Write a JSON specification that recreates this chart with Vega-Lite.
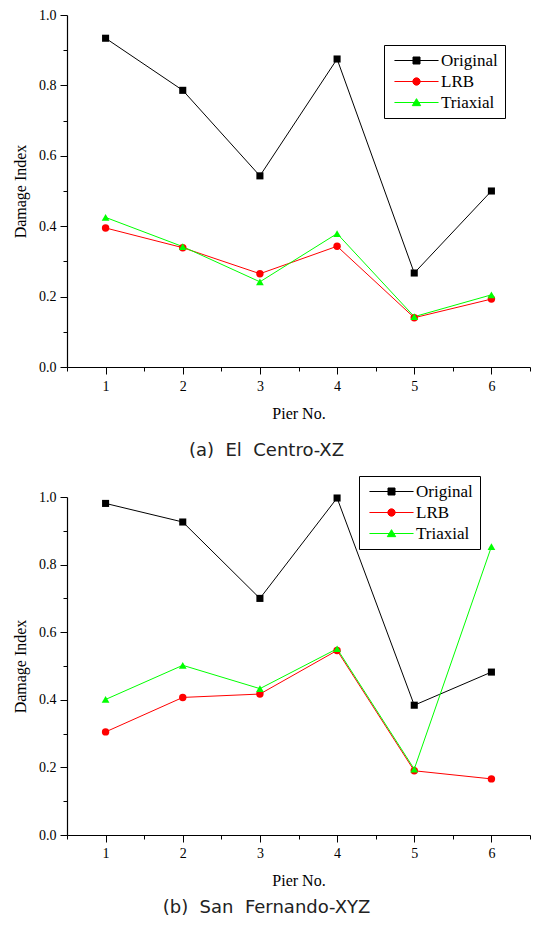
{
  "$schema": "https://vega.github.io/schema/vega-lite/v6.json",
  "background": "white",
  "padding": {"left": 12, "top": 8, "right": 0, "bottom": 0},
  "datasets": {
    "d": [
      {"panel": "a", "pier": 1, "series": "Original", "value": 0.934},
      {"panel": "a", "pier": 2, "series": "Original", "value": 0.786},
      {"panel": "a", "pier": 3, "series": "Original", "value": 0.543},
      {"panel": "a", "pier": 4, "series": "Original", "value": 0.875},
      {"panel": "a", "pier": 5, "series": "Original", "value": 0.267},
      {"panel": "a", "pier": 6, "series": "Original", "value": 0.500},
      {"panel": "a", "pier": 1, "series": "LRB", "value": 0.395},
      {"panel": "a", "pier": 2, "series": "LRB", "value": 0.339},
      {"panel": "a", "pier": 3, "series": "LRB", "value": 0.265},
      {"panel": "a", "pier": 4, "series": "LRB", "value": 0.343},
      {"panel": "a", "pier": 5, "series": "LRB", "value": 0.140},
      {"panel": "a", "pier": 6, "series": "LRB", "value": 0.193},
      {"panel": "a", "pier": 1, "series": "Triaxial", "value": 0.425},
      {"panel": "a", "pier": 2, "series": "Triaxial", "value": 0.342},
      {"panel": "a", "pier": 3, "series": "Triaxial", "value": 0.242},
      {"panel": "a", "pier": 4, "series": "Triaxial", "value": 0.379},
      {"panel": "a", "pier": 5, "series": "Triaxial", "value": 0.143},
      {"panel": "a", "pier": 6, "series": "Triaxial", "value": 0.205},
      {"panel": "b", "pier": 1, "series": "Original", "value": 0.981},
      {"panel": "b", "pier": 2, "series": "Original", "value": 0.926},
      {"panel": "b", "pier": 3, "series": "Original", "value": 0.700},
      {"panel": "b", "pier": 4, "series": "Original", "value": 0.997},
      {"panel": "b", "pier": 5, "series": "Original", "value": 0.384},
      {"panel": "b", "pier": 6, "series": "Original", "value": 0.482},
      {"panel": "b", "pier": 1, "series": "LRB", "value": 0.305},
      {"panel": "b", "pier": 2, "series": "LRB", "value": 0.407},
      {"panel": "b", "pier": 3, "series": "LRB", "value": 0.417},
      {"panel": "b", "pier": 4, "series": "LRB", "value": 0.546},
      {"panel": "b", "pier": 5, "series": "LRB", "value": 0.190},
      {"panel": "b", "pier": 6, "series": "LRB", "value": 0.166},
      {"panel": "b", "pier": 1, "series": "Triaxial", "value": 0.401},
      {"panel": "b", "pier": 2, "series": "Triaxial", "value": 0.502},
      {"panel": "b", "pier": 3, "series": "Triaxial", "value": 0.433},
      {"panel": "b", "pier": 4, "series": "Triaxial", "value": 0.551},
      {"panel": "b", "pier": 5, "series": "Triaxial", "value": 0.195},
      {"panel": "b", "pier": 6, "series": "Triaxial", "value": 0.853}
    ]
  },
  "config": {
    "view": {"stroke": null},
    "axis": {
      "grid": false,
      "domainColor": "#000000",
      "domainWidth": 1.2,
      "tickColor": "#000000",
      "tickWidth": 1,
      "labelFont": "Liberation Serif",
      "labelFontSize": 14,
      "labelColor": "#000000",
      "titleFont": "Liberation Serif",
      "titleFontSize": 16,
      "titleFontWeight": "normal",
      "titleColor": "#000000",
      "labelOverlap": false,
      "labelBound": false,
      "labelFlush": false
    },
    "legend": {
      "labelFont": "Liberation Serif",
      "labelFontSize": 17,
      "labelColor": "#000000",
      "title": null,
      "orient": "none",
      "strokeColor": "#000000",
      "fillColor": "#ffffff",
      "padding": 7,
      "symbolSize": 49,
      "symbolOffset": 17,
      "labelOffset": 16,
      "rowPadding": 3,
      "symbolStrokeWidth": 1,
      "symbolOpacity": 1
    },
    "title": {
      "font": "DejaVu Sans",
      "fontSize": 18,
      "fontWeight": "normal",
      "color": "#222222"
    }
  },
  "resolve": {
    "scale": {"color": "independent"},
    "legend": {"color": "independent"}
  },
  "spacing": 15,
  "vconcat": [
    {
      "width": 463,
      "height": 352,
      "data": {"name": "d"},
      "transform": [{"filter": "datum.panel === 'a'"}],
      "title": {"text": "(a)\u00a0\u00a0El\u00a0\u00a0Centro-XZ", "orient": "bottom", "anchor": "middle", "dx": -32, "offset": 21},
      "encoding": {
        "x": {
          "field": "pier", "type": "quantitative",
          "scale": {"domain": [0.5, 6.5], "nice": false, "zero": false},
          "axis": {
            "title": "Pier No.",
            "values": [0.5, 1, 1.5, 2, 2.5, 3, 3.5, 4, 4.5, 5, 5.5, 6, 6.5],
            "labelExpr": "datum.value % 1 === 0 ? format(datum.value, 'd') : ''",
            "tickSize": {"condition": {"test": "datum.value % 1 === 0", "value": 7}, "value": 4},
            "labelPadding": 5,
            "titlePadding": 12
          }
        },
        "y": {
          "field": "value", "type": "quantitative",
          "scale": {"domain": [0, 1], "nice": false},
          "axis": {
            "title": "Damage Index",
            "values": [0, 0.1, 0.2, 0.3, 0.4, 0.5, 0.6, 0.7, 0.8, 0.9, 1.0],
            "labelExpr": "round(datum.value * 10) % 2 === 0 ? format(datum.value, '.1f') : ''",
            "tickSize": {"condition": {"test": "round(datum.value * 10) % 2 === 0", "value": 7}, "value": 4},
            "labelPadding": 4,
            "titlePadding": 10
          }
        },
        "color": {
          "field": "series", "type": "nominal",
          "scale": {"domain": ["Original", "LRB", "Triaxial"], "range": ["#000000", "#ff0000", "#00ff00"]},
          "legend": {
            "legendX": 317,
            "legendY": 30,
            "symbolType": {"expr": "datum.value === 'Original' ? 'M-6.3,0H6.3M-1,-1H1V1H-1Z' : datum.value === 'LRB' ? 'M-6.3,0H6.3M1.05,0A1.05,1.05,0,1,1,-1.05,0A1.05,1.05,0,1,1,1.05,0Z' : 'M-6.3,0H6.3M0,-1.1L1.2,0.9L-1.2,0.9Z'"},
            "symbolFillColor": {"expr": "datum.value === 'Original' ? '#000000' : datum.value === 'LRB' ? '#ff0000' : '#00ff00'"},
            "symbolStrokeColor": {"expr": "datum.value === 'Original' ? '#000000' : datum.value === 'LRB' ? '#ff0000' : '#00ff00'"}
          }
        }
      },
      "layer": [
        {"mark": {"type": "line", "strokeWidth": 1}},
        {
          "transform": [{"filter": "datum.series === 'Original'"}],
          "mark": {"type": "point", "shape": "square", "filled": true, "size": 50, "opacity": 1}
        },
        {
          "transform": [{"filter": "datum.series === 'LRB'"}],
          "mark": {"type": "point", "shape": "circle", "filled": true, "size": 55, "opacity": 1}
        },
        {
          "transform": [{"filter": "datum.series === 'Triaxial'"}],
          "mark": {"type": "point", "shape": "triangle-up", "filled": true, "size": 60, "opacity": 1}
        }
      ]
    },
    {
      "width": 463,
      "height": 338,
      "data": {"name": "d"},
      "transform": [{"filter": "datum.panel === 'b'"}],
      "title": {"text": "(b)\u00a0\u00a0San\u00a0\u00a0Fernando-XYZ", "orient": "bottom", "anchor": "middle", "dx": -32, "offset": 11},
      "encoding": {
        "x": {
          "field": "pier", "type": "quantitative",
          "scale": {"domain": [0.5, 6.5], "nice": false, "zero": false},
          "axis": {
            "title": "Pier No.",
            "values": [0.5, 1, 1.5, 2, 2.5, 3, 3.5, 4, 4.5, 5, 5.5, 6, 6.5],
            "labelExpr": "datum.value % 1 === 0 ? format(datum.value, 'd') : ''",
            "tickSize": {"condition": {"test": "datum.value % 1 === 0", "value": 7}, "value": 4},
            "labelPadding": 4,
            "titlePadding": 12
          }
        },
        "y": {
          "field": "value", "type": "quantitative",
          "scale": {"domain": [0, 1], "nice": false},
          "axis": {
            "title": "Damage Index",
            "values": [0, 0.1, 0.2, 0.3, 0.4, 0.5, 0.6, 0.7, 0.8, 0.9, 1.0],
            "labelExpr": "round(datum.value * 10) % 2 === 0 ? format(datum.value, '.1f') : ''",
            "tickSize": {"condition": {"test": "round(datum.value * 10) % 2 === 0", "value": 7}, "value": 4},
            "labelPadding": 4,
            "titlePadding": 10
          }
        },
        "color": {
          "field": "series", "type": "nominal",
          "scale": {"domain": ["Original", "LRB", "Triaxial"], "range": ["#000000", "#ff0000", "#00ff00"]},
          "legend": {
            "legendX": 292,
            "legendY": -21,
            "symbolType": {"expr": "datum.value === 'Original' ? 'M-6.3,0H6.3M-1,-1H1V1H-1Z' : datum.value === 'LRB' ? 'M-6.3,0H6.3M1.05,0A1.05,1.05,0,1,1,-1.05,0A1.05,1.05,0,1,1,1.05,0Z' : 'M-6.3,0H6.3M0,-1.1L1.2,0.9L-1.2,0.9Z'"},
            "symbolFillColor": {"expr": "datum.value === 'Original' ? '#000000' : datum.value === 'LRB' ? '#ff0000' : '#00ff00'"},
            "symbolStrokeColor": {"expr": "datum.value === 'Original' ? '#000000' : datum.value === 'LRB' ? '#ff0000' : '#00ff00'"}
          }
        }
      },
      "layer": [
        {"mark": {"type": "line", "strokeWidth": 1}},
        {
          "transform": [{"filter": "datum.series === 'Original'"}],
          "mark": {"type": "point", "shape": "square", "filled": true, "size": 50, "opacity": 1}
        },
        {
          "transform": [{"filter": "datum.series === 'LRB'"}],
          "mark": {"type": "point", "shape": "circle", "filled": true, "size": 55, "opacity": 1}
        },
        {
          "transform": [{"filter": "datum.series === 'Triaxial'"}],
          "mark": {"type": "point", "shape": "triangle-up", "filled": true, "size": 60, "opacity": 1}
        }
      ]
    }
  ]
}
